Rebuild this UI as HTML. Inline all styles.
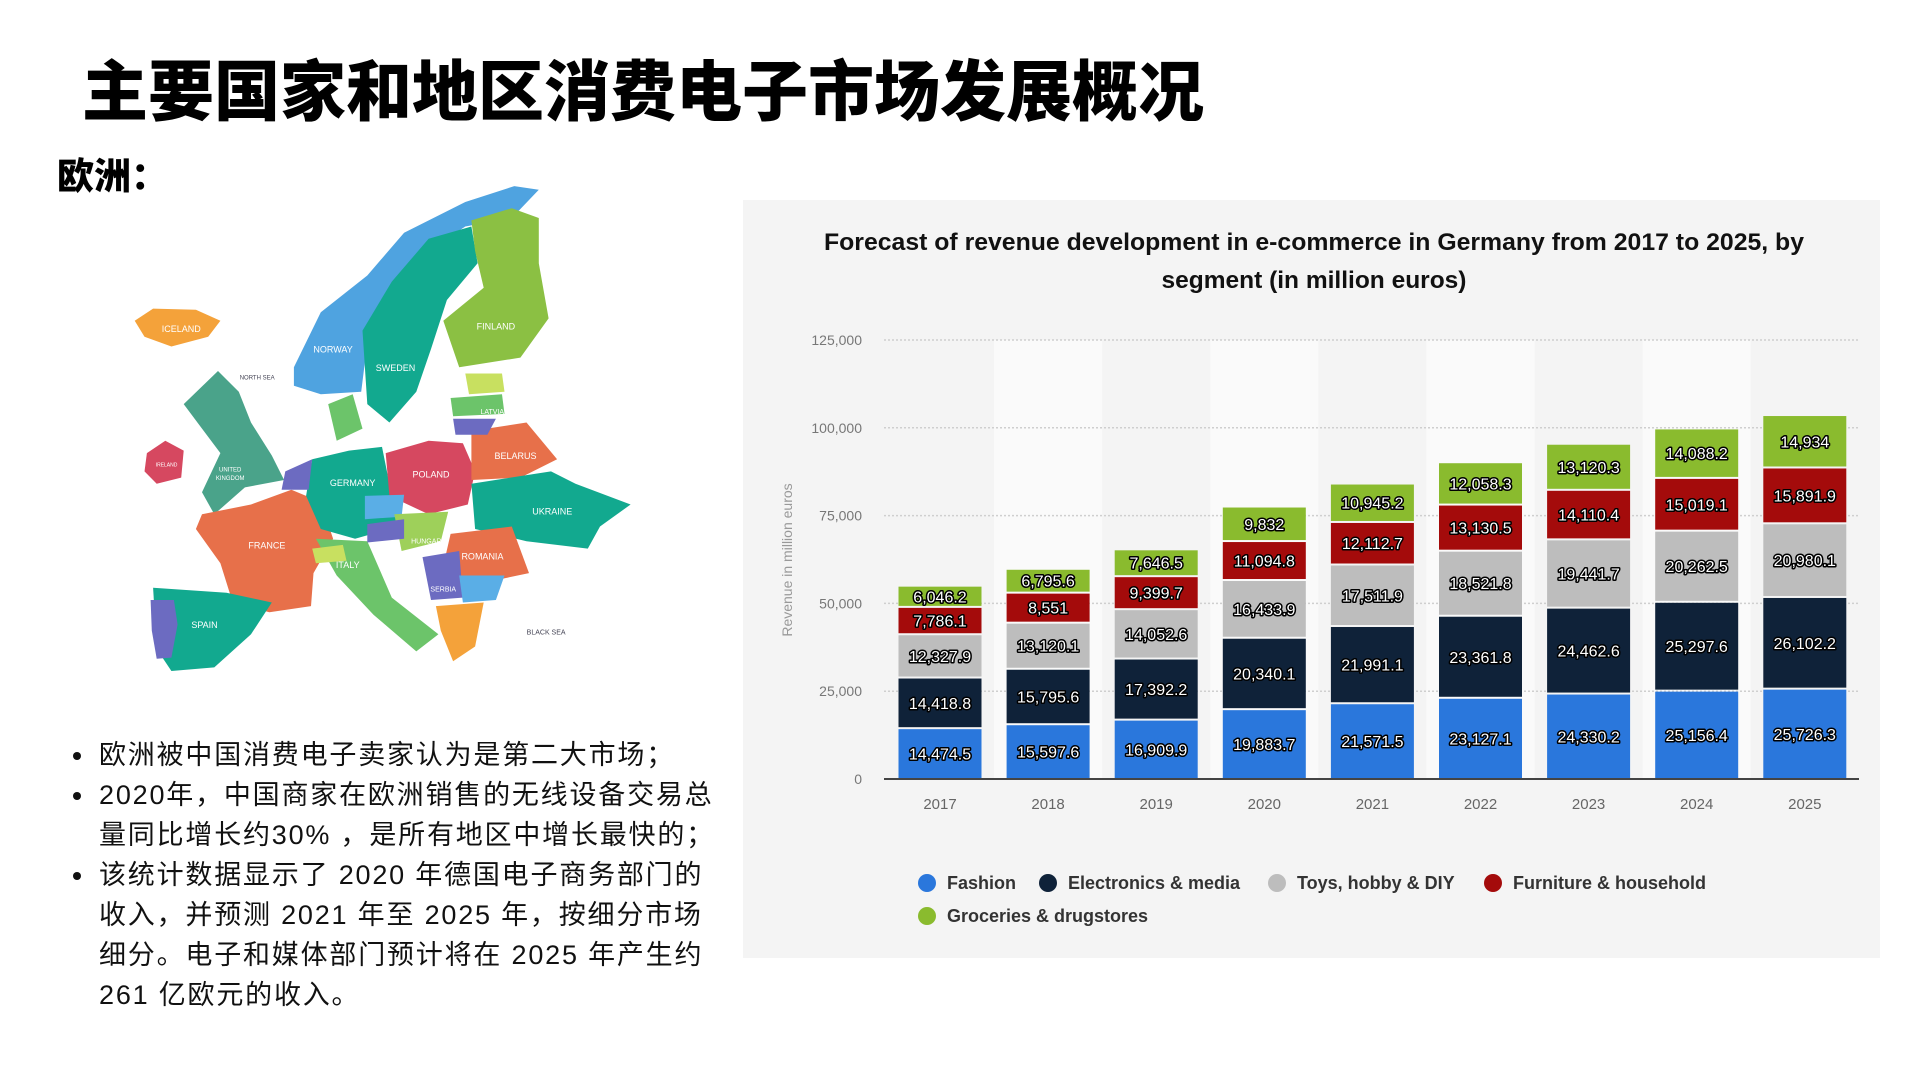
<!DOCTYPE html>
<html><head><meta charset="utf-8">
<style>
html,body{margin:0;padding:0;background:#fff;}
body{width:1920px;height:1080px;position:relative;overflow:hidden;font-family:"Liberation Sans","Noto Sans CJK SC",sans-serif;}
.t1{position:absolute;left:82px;top:39px;font-size:66px;font-weight:900;color:#000;font-family:"Noto Sans CJK SC",sans-serif;letter-spacing:0px;white-space:nowrap;}
.t2{position:absolute;left:57px;top:146px;font-size:37px;font-weight:900;color:#000;font-family:"Noto Sans CJK SC",sans-serif;}
.bul{position:absolute;left:70px;top:735px;width:800px;font-size:27px;line-height:40px;color:#111;font-family:"Liberation Sans","Noto Sans CJK SC",sans-serif;white-space:nowrap;letter-spacing:1.8px;}
.bul div{position:relative;padding-left:29px;}
.bul div:before{content:"";position:absolute;left:3px;top:17px;width:8px;height:8px;border-radius:50%;background:#111;}
#chart{position:absolute;left:743px;top:200px;}
#map{position:absolute;left:0;top:0;}
</style></head><body>
<div class="t1">主要国家和地区消费电子市场发展概况</div>
<div class="t2">欧洲：</div>
<svg id="map" width="740" height="720" viewBox="0 0 740 720"></svg>
<div class="bul">
<div>欧洲被中国消费电子卖家认为是第二大市场；</div>
<div>2020年，中国商家在欧洲销售的无线设备交易总<br>量同比增长约30% ，是所有地区中增长最快的；</div>
<div>该统计数据显示了 2020 年德国电子商务部门的<br>收入，并预测 2021 年至 2025 年，按细分市场<br>细分。电子和媒体部门预计将在 2025 年产生约<br>261 亿欧元的收入。</div>
</div>
<svg id="chart" width="1137" height="758" viewBox="0 0 1137 758"></svg>
<script>
(function(){
var s=1.2245,m=document.getElementById('map'),h='';
function P(pts,c){h+='<polygon fill="'+c+'" points="'+pts.map(function(p){return (p[0]*s).toFixed(1)+','+(p[1]*s).toFixed(1)}).join(' ')+'"/>';}
function T(x,y,t,fs,c){h+='<text x="'+(x*s)+'" y="'+(y*s)+'" font-size="'+fs+'" fill="'+(c||'#fff')+'" text-anchor="middle" font-family="Liberation Sans,sans-serif">'+t+'</text>';}
P([[110,262],[125,252],[160,253],[180,262],[170,275],[140,283],[118,275]],'#f4a23a');
P([[240,300],[262,255],[300,225],[330,190],[380,165],[420,152],[440,155],[418,178],[380,185],[350,205],[320,240],[300,280],[295,320],[262,322],[240,315]],'#4fa3e0');
P([[300,330],[296,270],[320,230],[350,195],[385,185],[390,215],[365,245],[352,285],[340,320],[318,345]],'#12a98f');
P([[385,180],[418,170],[440,178],[440,215],[448,260],[425,292],[375,300],[362,262],[395,235],[388,205]],'#8bc043');
P([[150,330],[178,303],[195,320],[205,345],[222,372],[232,392],[200,398],[175,420],[165,402],[180,370],[165,350]],'#4aa38a');
P([[120,370],[135,360],[150,368],[148,390],[128,395],[118,385]],'#d64860');
P([[165,420],[205,412],[238,400],[262,410],[272,440],[256,468],[254,495],[220,500],[190,492],[180,460],[160,432]],'#e7704a');
P([[125,480],[185,484],[222,492],[205,518],[175,545],[140,548],[128,530]],'#12a98f');
P([[123,490],[142,490],[145,510],[140,537],[128,538],[124,515]],'#6c6bc1');
P([[255,375],[285,368],[312,365],[318,395],[325,430],[290,440],[262,432],[250,405]],'#12a98f');
P([[315,370],[350,360],[378,362],[388,385],[382,412],[350,420],[318,405]],'#d64860');
P([[385,352],[430,345],[455,375],[425,390],[385,392]],'#e7704a');
P([[385,395],[450,385],[470,395],[515,412],[490,430],[480,448],[430,442],[388,432]],'#12a98f');
P([[368,436],[418,430],[432,468],[385,478],[362,462]],'#e7704a');
P([[258,440],[300,442],[320,488],[358,518],[340,532],[305,502],[275,470]],'#6cc46a');
P([[298,405],[330,404],[328,422],[298,424]],'#5aaee6');
P([[322,420],[366,418],[360,442],[328,450]],'#9ed05a');
P([[300,428],[330,424],[330,440],[300,443]],'#6c6bc1');
P([[345,455],[375,450],[378,488],[352,490]],'#6c6bc1');
P([[375,470],[412,470],[405,490],[378,492]],'#5aaee6');
P([[356,495],[395,492],[388,528],[370,540],[360,515]],'#f4a23a');
P([[380,305],[410,305],[412,320],[383,322]],'#c8e060');
P([[368,325],[410,322],[412,338],[370,340]],'#6cc46a');
P([[370,342],[405,342],[398,355],[372,355]],'#6c6bc1');
P([[233,385],[255,375],[252,400],[230,400]],'#6c6bc1');
P([[255,448],[280,445],[283,458],[258,460]],'#c8e060');
P([[268,330],[288,322],[296,350],[275,360]],'#6cc46a');
T(148,271,'ICELAND',9);T(272,288,'NORWAY',9);T(323,303,'SWEDEN',9);T(405,269,'FINLAND',9);
T(188,385,'UNITED',6);T(188,392,'KINGDOM',6);T(218,448,'FRANCE',9);T(167,513,'SPAIN',9);
T(288,397,'GERMANY',9);T(352,390,'POLAND',9);T(421,375,'BELARUS',9);T(451,420,'UKRAINE',9);
T(394,457,'ROMANIA',9);T(284,464,'ITALY',9);T(210,310,'NORTH SEA',6,'#445');T(446,518,'BLACK SEA',7,'#445');
T(350,444,'HUNGARY',7);T(362,483,'SERBIA',7);T(402,338,'LATVIA',7);T(136,381,'IRELAND',5);
m.innerHTML=h;

var c=document.getElementById('chart'),g='';
var cols=['#2a77dc','#0f2239','#bdbdbd','#a40b0b','#8abb2e'];
var D=[[14474.5,14418.8,12327.9,7786.1,6046.2],[15597.6,15795.6,13120.1,8551,6795.6],[16909.9,17392.2,14052.6,9399.7,7646.5],[19883.7,20340.1,16433.9,11094.8,9832],[21571.5,21991.1,17511.9,12112.7,10945.2],[23127.1,23361.8,18521.8,13130.5,12058.3],[24330.2,24462.6,19441.7,14110.4,13120.3],[25156.4,25297.6,20262.5,15019.1,14088.2],[25726.3,26102.2,20980.1,15891.9,14934]];
var ox=743,oy=200,y0=779-oy,ppu=(779-340)/125000;
g+='<rect x="0" y="0" width="1137" height="758" fill="#f4f4f4"/>';
var step=108.1,cx0=940-ox;
for(var i=0;i<9;i++){if(i%2==1)g+='<rect x="'+(cx0+i*step-step/2)+'" y="'+(340-oy)+'" width="'+step+'" height="'+(y0-(340-oy))+'" fill="#fafafa"/>';}
g+='<text x="571" y="50" font-size="24.5" font-weight="bold" fill="#111" text-anchor="middle" textLength="980" lengthAdjust="spacingAndGlyphs">Forecast of revenue development in e-commerce in Germany from 2017 to 2025, by</text>';
g+='<text x="571" y="88" font-size="24.5" font-weight="bold" fill="#111" text-anchor="middle">segment (in million euros)</text>';
for(var k=0;k<=5;k++){var yy=y0-k*25000*ppu;
 if(k>0)g+='<line x1="'+(884-ox)+'" x2="'+(1859-ox)+'" y1="'+yy+'" y2="'+yy+'" stroke="#cfcfcf" stroke-width="1.5" stroke-dasharray="2,2"/>';
 g+='<text x="'+(862-ox)+'" y="'+(yy+5)+'" font-size="14" fill="#777" text-anchor="end">'+(k==0?'0':(k*25)+',000')+'</text>';}
g+='<text transform="translate(49,360) rotate(-90)" font-size="14" fill="#999" text-anchor="middle">Revenue in million euros</text>';
function fmt(v){var p=(''+v).split('.');return p[0].replace(/\B(?=(\d{3})+(?!\d))/g,',')+(p[1]?'.'+p[1]:'');}
for(var i=0;i<9;i++){var cx=cx0+i*step,acc=0;
 for(var j=0;j<5;j++){var v=D[i][j],yt=y0-(acc+v)*ppu,hh=v*ppu;
  g+='<rect x="'+(cx-41.5)+'" y="'+(yt+1)+'" width="83" height="'+(hh-2)+'" fill="'+cols[j]+'"/>';
  g+='<text x="'+cx+'" y="'+(yt+hh/2+6)+'" font-size="16" fill="#fff" stroke="#000" stroke-width="3" paint-order="stroke" stroke-linejoin="round" text-anchor="middle">'+fmt(v)+'</text>';
  acc+=v;}
 g+='<text x="'+cx+'" y="'+(809-oy)+'" font-size="15" fill="#666" text-anchor="middle">'+(2017+i)+'</text>';}
g+='<line x1="'+(884-ox)+'" x2="'+(1859-ox)+'" y1="'+y0+'" y2="'+y0+'" stroke="#444" stroke-width="2"/>';
var L=[['Fashion',927,883],['Electronics & media',1048,883],['Toys, hobby & DIY',1277,883],['Furniture & household',1493,883],['Groceries & drugstores',927,916]];
for(var j=0;j<5;j++){g+='<circle cx="'+(L[j][1]-ox)+'" cy="'+(L[j][2]-oy)+'" r="9" fill="'+cols[j]+'"/>';
 g+='<text x="'+(L[j][1]-ox+20)+'" y="'+(L[j][2]-oy+6)+'" font-size="18" font-weight="bold" fill="#333">'+L[j][0].replace('&','&amp;')+'</text>';}
c.innerHTML=g;
})();
</script>
</body></html>
